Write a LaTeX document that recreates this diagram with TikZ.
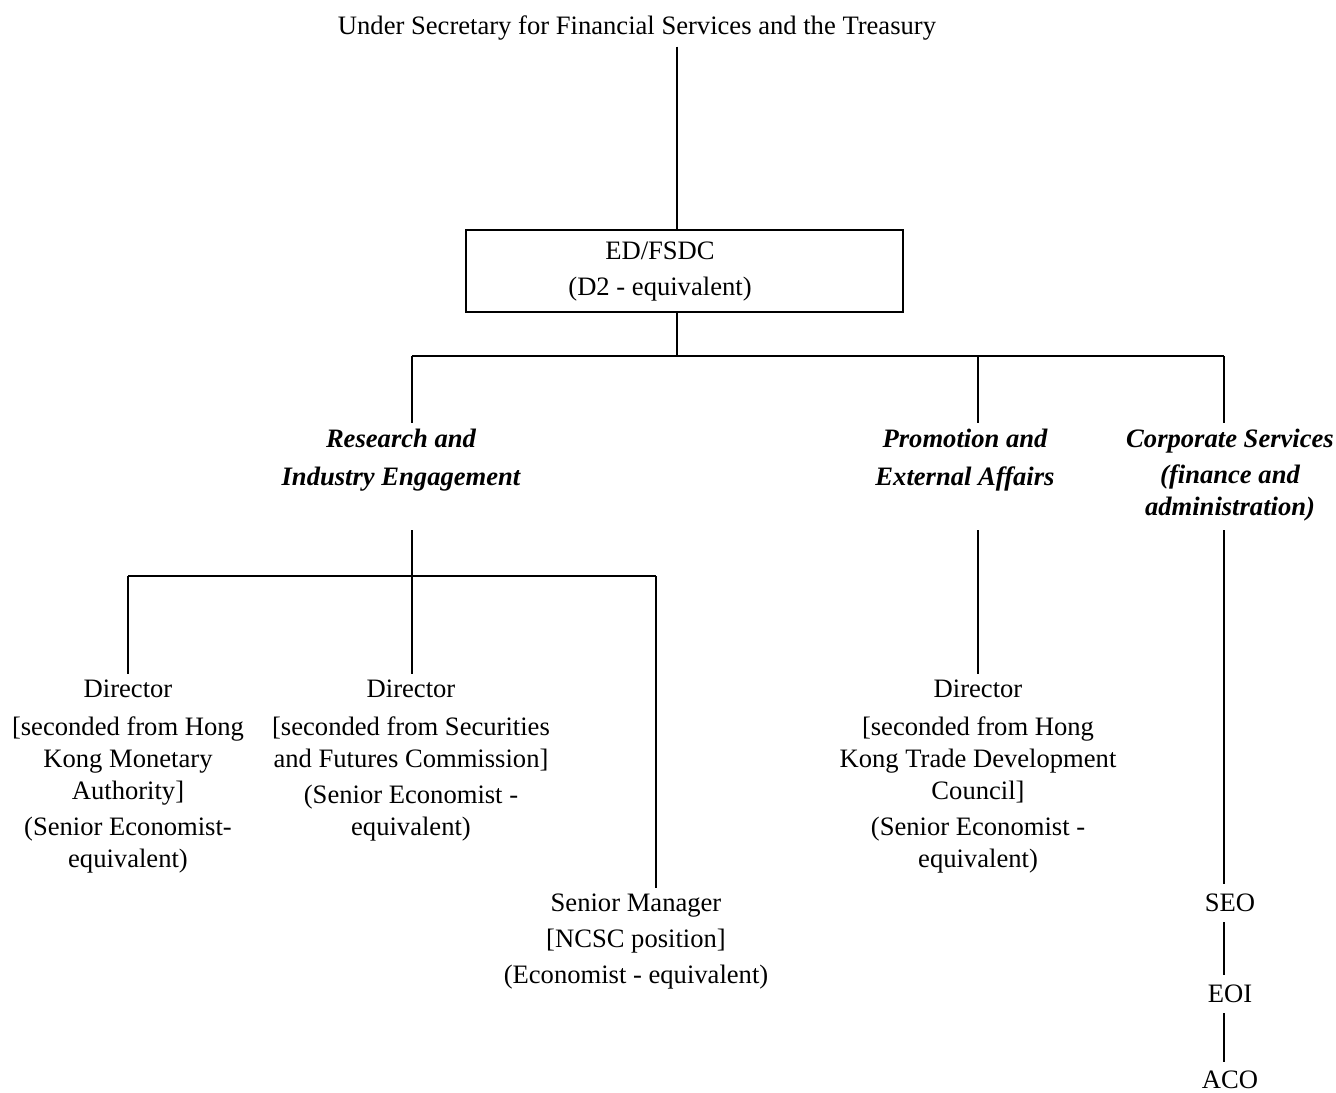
\documentclass[tikz,border=0pt]{standalone}
\usepackage{fontspec}
\setmainfont{Liberation Serif}
\usetikzlibrary{positioning}
\tikzset{
  post/.style={align=center, inner sep=3pt, font=\fontsize{13.3}{16}\selectfont},
  unit/.style={post, font=\fontsize{13.3}{16}\selectfont\bfseries\itshape},
  grade/.style={post, inner sep=5pt},
  edbox/.style={draw, line width=0.9pt, minimum width=218.5pt, minimum height=41pt},
  link/.style={line width=0.9pt}
}
\begin{document}
\begin{tikzpicture}[x=0.5pt,y=-0.5pt]
    \useasboundingbox (0,0) rectangle (1336,1092);
    \node[post] (usfst) at (637,28) {Under Secretary for Financial Services and the Treasury};
    \node[edbox] (ed) at (684.5,271) {};
    \node[post] (edtxt) at (660,272) {ED/FSDC\\[2pt](D2 - equivalent)};
    \node[unit] (rie) at (401,460) {Research and\\[3pt]Industry Engagement};
    \node[unit] (pea) at (965,460) {Promotion and\\[3pt]External Affairs};
    \node[unit] (cs) at (1230,475) {Corporate Services\\[2pt](finance and\\administration)};
    \node[post] (dhkma) at (128,777) {Director\\[3pt]{[}seconded from Hong\\Kong Monetary\\Authority{]}\\[2pt](Senior Economist-\\equivalent)};
    \node[post] (dsfc) at (411,761) {Director\\[3pt]{[}seconded from Securities\\and Futures Commission{]}\\[2pt](Senior Economist -\\equivalent)};
    \node[post] (sm) at (636,942) {Senior Manager\\[2pt]{[}NCSC position{]}\\[2pt](Economist - equivalent)};
    \node[post] (dhktdc) at (978,777) {Director\\[3pt]{[}seconded from Hong\\Kong Trade Development\\Council{]}\\[2pt](Senior Economist -\\equivalent)};
    \node[grade] (seo) at (1230,903) {SEO};
    \node[grade] (eoi) at (1230,994) {EOI};
    \node[grade, inner ysep=1pt] (aco) at (1230,1080) {ACO};

    \coordinate (top) at (677,356);
    \coordinate (jr) at (412,356);
    \coordinate (jp) at (978,356);
    \coordinate (jc) at (1224,356);
    \draw[link] (usfst.south -| top) -- (ed.north -| top);
    \draw[link] (ed.south -| top) -- (top);
    \draw[link] (jr) -- (jc);
    \foreach \j/\u in {jr/rie, jp/pea, jc/cs}
        \draw[link] (\j) -- (\j |- \u.north);

    \coordinate (sr) at (412,530);
    \coordinate (sp) at (978,530);
    \coordinate (sc) at (1224,530);
    \coordinate (kl) at (128,576);
    \coordinate (kr) at (412,576);
    \coordinate (km) at (656,576);
    \draw[link] (sr) -- (kr);
    \draw[link] (kl) -- (km);
    \foreach \k/\d in {kl/dhkma, kr/dsfc, km/sm}
        \draw[link] (\k) -- (\k |- \d.north);
    \draw[link] (sp) -- (sp |- dhktdc.north);
    \draw[link] (sc) -- (sc |- seo.north);
    \draw[link] (seo.south -| sc) -- (eoi.north -| sc);
    \draw[link, shorten >=3.5pt] (eoi.south -| sc) -- (aco.north -| sc);
\end{tikzpicture}
\end{document}
